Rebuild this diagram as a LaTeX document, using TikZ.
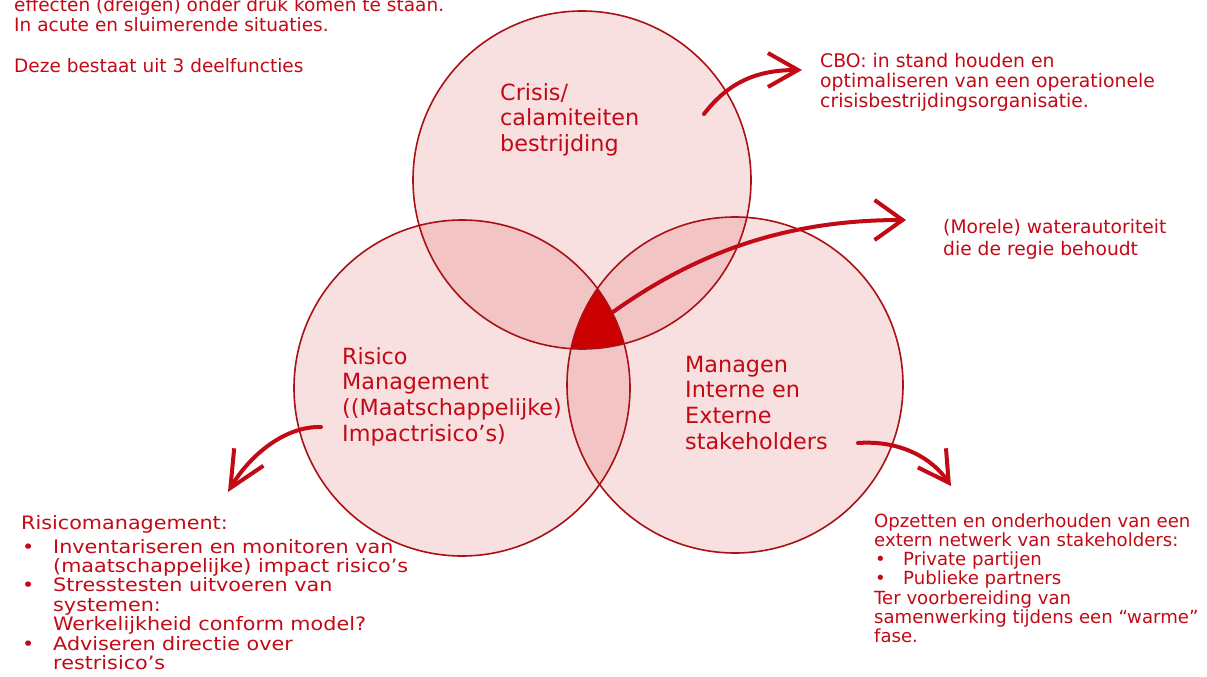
\documentclass[tikz,border=0pt]{standalone}
\usepackage{fontspec}
\setmainfont{DejaVu Sans}
\newfontfamily\widefont[FakeStretch=1.12]{DejaVu Sans}
\usetikzlibrary{arrows.meta}
\definecolor{ink}{RGB}{194,10,22}
\definecolor{ringc}{RGB}{168,18,22}
\definecolor{tint}{RGB}{205,0,0}
\definecolor{core}{RGB}{204,0,0}
\begin{document}
\begin{tikzpicture}[x=1pt,y=-1pt,
  ringfill/.style={fill=tint, fill opacity=0.12},
  ringline/.style={draw=ringc, line width=1.6pt},
  small/.style={text=ink, font=\fontsize{18.5}{20}\selectfont, align=left, anchor=base west, inner sep=0pt},
  listtxt/.style={text=ink, font=\widefont\fontsize{18.5}{19.4}\selectfont, align=left, anchor=base west, inner sep=0pt},
  big/.style={text=ink, font=\fontsize{22.3}{25.7}\selectfont, align=left, anchor=base west, inner sep=0pt},
  pointer/.style={draw=ink, line width=4pt, line cap=round,
    -{Straight Barb[length=30pt,width=34pt,line width=4pt]}}
]
\useasboundingbox (0,0) rectangle (1207,677);
\fill[white] (0,0) rectangle (1207,677);

% circle centres
\coordinate (ctop) at (582,180);
\coordinate (cleft) at (462,388);
\coordinate (cright) at (735,385);

% fills
\fill[ringfill] (ctop) circle[radius=169pt];
\fill[ringfill] (cleft) circle[radius=168pt];
\fill[ringfill] (cright) circle[radius=168pt];
\begin{scope}
  \clip (ctop) circle[radius=169pt];
  \clip (cleft) circle[radius=168pt];
  \fill[core] (cright) circle[radius=168pt];
\end{scope}
% outlines
\draw[ringline] (ctop) circle[radius=169pt];
\draw[ringline] (cleft) circle[radius=168pt];
\draw[ringline] (cright) circle[radius=168pt];

% circle labels (anchored at the baseline of the last line)
\node[big] (ltop) at (500,151.4) {Crisis/\\calamiteiten\\bestrijding};
\node[big] (lleft) at (342,441.1) {Risico\\Management\\((Maatschappelijke)\\Impactrisico’s)};
\node[big] (lright) at (685,449.1) {Managen\\Interne en\\Externe\\stakeholders};

% side texts
\node[small] (intro) at (14,72) {effecten (dreigen) onder druk komen te staan.\\In acute en sluimerende situaties.\\[20pt]Deze bestaat uit 3 deelfuncties};
\node[small, font=\fontsize{18.8}{20}\selectfont] (cbo) at (820,107) {CBO: in stand houden en\\optimaliseren van een operationele\\crisisbestrijdingsorganisatie.};
\node[small, font=\fontsize{18.7}{22}\selectfont] (moral) at (943,255) {(Morele) waterautoriteit\\die de regie behoudt};
\node[listtxt] (riskhead) at (21,529) {Risicomanagement:};
\node[listtxt] (risklist) at (21,669.4) {\makebox[32pt][l]{\hspace{1pt}•}Inventariseren en monitoren van\\
\hspace*{32pt}(maatschappelijke) impact risico’s\\
\makebox[32pt][l]{\hspace{1pt}•}Stresstesten uitvoeren van\\
\hspace*{32pt}systemen:\\
\hspace*{32pt}Werkelijkheid conform model?\\
\makebox[32pt][l]{\hspace{1pt}•}Adviseren directie over\\
\hspace*{32pt}restrisico’s};
\node[small, font=\fontsize{18.1}{19.3}\selectfont] (network) at (874,642.8) {Opzetten en onderhouden van een\\extern netwerk van stakeholders:\\
\makebox[29pt][l]{\hspace{1pt}•}Private partijen\\
\makebox[29pt][l]{\hspace{1pt}•}Publieke partners\\
Ter voorbereiding van\\samenwerking tijdens een “warme”\\fase.};

% arrow anchors
\coordinate (a1s) at (704,114);
\coordinate (a1e) at (802,70);
\coordinate (a2s) at (613,312);
\coordinate (a2e) at (906,220);
\coordinate (a3s) at (321,427);
\coordinate (a3e) at (228,492);
\coordinate (a4s) at (858,443);
\coordinate (a4e) at (951,486);

\draw[pointer] (a1s) .. controls (730,80) and (760,70) .. (a1e);
\draw[pointer, -{Straight Barb[length=28pt,width=40pt,line width=4pt]}] (a2s) .. controls (700,250) and (790,220) .. (a2e);
\draw[pointer, -{Straight Barb[length=36pt,width=34pt,line width=4pt]}] (a3s) .. controls (285,426) and (250,455) .. (a3e);
\draw[pointer] (a4s) .. controls (900,440) and (932,458) .. (a4e);
\end{tikzpicture}
\end{document}
